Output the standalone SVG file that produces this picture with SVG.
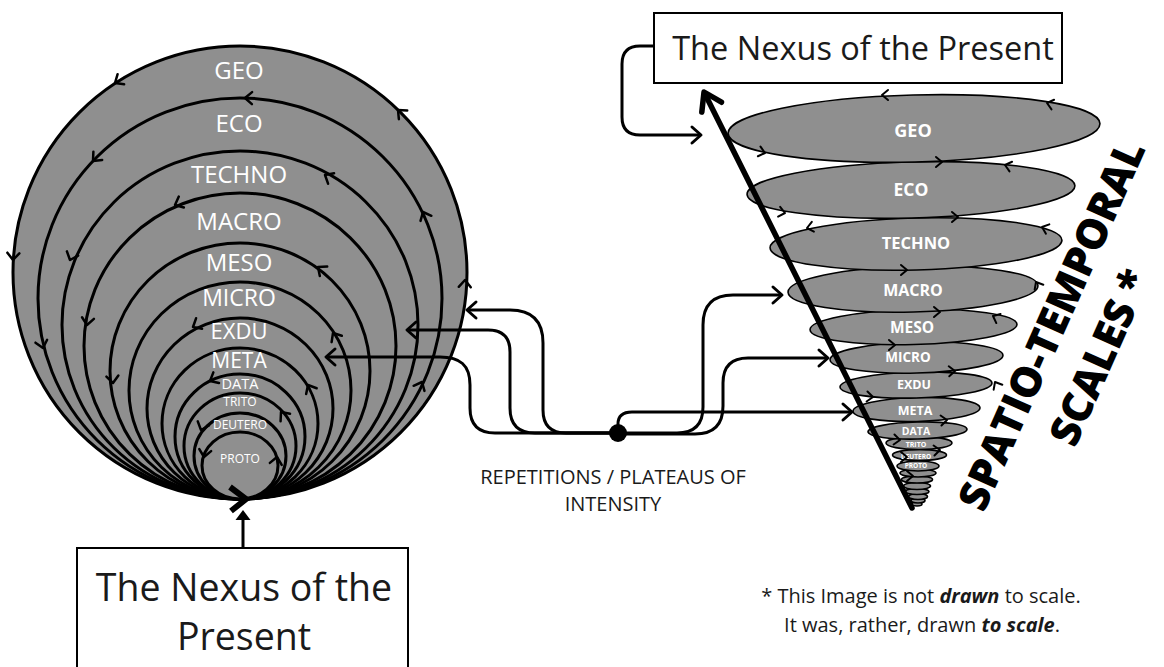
<svg xmlns="http://www.w3.org/2000/svg" xmlns:xlink="http://www.w3.org/1999/xlink" width="1164" height="667" viewBox="0 0 1164 667">
<style>
.ring{fill:#8f8f8f;stroke:#000;stroke-width:3}
.cone{fill:#8f8f8f;stroke:#000;stroke-width:1.6}
.lbl{font-family:"Open Sans","Liberation Sans",sans-serif;fill:#fff;text-anchor:middle}
.clbl{font-family:"Open Sans","Liberation Sans",sans-serif;fill:#fff;font-weight:700;text-anchor:middle}
.conn{fill:none;stroke:#000;stroke-width:3;stroke-linejoin:round}
.txt{font-family:"Open Sans","Liberation Sans",sans-serif;fill:#1a1a1a}
.box{fill:#fff;stroke:#000;stroke-width:2}
.big{font-family:"Open Sans","Liberation Sans",sans-serif;font-weight:800;font-size:42px;fill:#000;text-anchor:middle}
</style>
<defs>
<path id="ch" d="M-7,-6 L0,0 L-7,6" fill="none" stroke="#000" stroke-width="2.5" stroke-linecap="round" stroke-linejoin="round"/>
<path id="ah" d="M-9,-8 L0,0 L-9,8" fill="none" stroke="#000" stroke-width="3" stroke-linecap="round" stroke-linejoin="round"/>
<path id="cc" d="M-6,-5 L0,0 L-6,5" fill="none" stroke="#000" stroke-width="2" stroke-linecap="round" stroke-linejoin="round"/>
</defs>

<g id="left-circles">
<ellipse class="ring" cx="240" cy="272.5" rx="227" ry="226.5"/>
<ellipse class="ring" cx="240" cy="298.5" rx="202" ry="200.5"/>
<ellipse class="ring" cx="240" cy="325" rx="178" ry="174"/>
<ellipse class="ring" cx="240" cy="346" rx="156" ry="153"/>
<ellipse class="ring" cx="240" cy="371" rx="130" ry="128"/>
<ellipse class="ring" cx="240" cy="390.5" rx="111" ry="108.5"/>
<ellipse class="ring" cx="240" cy="408.5" rx="93" ry="90.5"/>
<ellipse class="ring" cx="240" cy="423.5" rx="78" ry="75.5"/>
<ellipse class="ring" cx="240" cy="436.5" rx="65" ry="62.5"/>
<ellipse class="ring" cx="240" cy="446" rx="56" ry="53"/>
<ellipse class="ring" cx="240" cy="456" rx="46" ry="43"/>
<ellipse class="ring" cx="240" cy="465.5" rx="38" ry="33.5"/>
<text class="lbl" x="239" y="78.5" font-size="24">GEO</text>
<text class="lbl" x="239" y="131.5" font-size="24">ECO</text>
<text class="lbl" x="239" y="182.5" font-size="24">TECHNO</text>
<text class="lbl" x="239" y="229.5" font-size="24">MACRO</text>
<text class="lbl" x="239" y="271" font-size="24">MESO</text>
<text class="lbl" x="239" y="306" font-size="23">MICRO</text>
<text class="lbl" x="239" y="339" font-size="22">EXDU</text>
<text class="lbl" x="239" y="367.5" font-size="21">META</text>
<text class="lbl" x="240" y="388.5" font-size="14.5">DATA</text>
<text class="lbl" x="240" y="405.5" font-size="12">TRITO</text>
<text class="lbl" x="240" y="428.5" font-size="12">DEUTERO</text>
<text class="lbl" x="240" y="462.5" font-size="12">PROTO</text>
<use href="#ch" transform="translate(115,83) rotate(147)"/>
<use href="#ch" transform="translate(398,110) rotate(-136)"/>
<use href="#ch" transform="translate(13,260) rotate(93)"/>
<use href="#ch" transform="translate(465,280) rotate(-88)"/>
<use href="#ch" transform="translate(245,98) rotate(-179)"/>
<use href="#ch" transform="translate(93,161) rotate(133)"/>
<use href="#ch" transform="translate(423,212) rotate(-115)"/>
<use href="#ch" transform="translate(43,348) rotate(76)"/>
<use href="#ch" transform="translate(422,382) rotate(-65)"/>
<use href="#ch" transform="translate(325,175) rotate(-150)"/>
<use href="#ch" transform="translate(70,260) rotate(111)"/>
<use href="#ch" transform="translate(175,205) rotate(155)"/>
<use href="#ch" transform="translate(87,325) rotate(98)"/>
<use href="#ch" transform="translate(318,267) rotate(-142)"/>
<use href="#ch" transform="translate(113,383) rotate(85)"/>
<use href="#ch" transform="translate(333,333) rotate(-122)"/>
<use href="#ch" transform="translate(193,327) rotate(150)"/>
<use href="#ch" transform="translate(308,385) rotate(-119)"/>
<use href="#ch" transform="translate(210,381) rotate(152)"/>
<use href="#ch" transform="translate(281,412) rotate(-128)"/>
<use href="#ch" transform="translate(201,430) rotate(110)"/>
<use href="#ch" transform="translate(204,457) rotate(100)"/>
<use href="#ch" transform="translate(277,457) rotate(-80)"/>
<path d="M230,487 L246,499 L231,511" fill="none" stroke="#000" stroke-width="6"/>
</g>

<g id="cone">
<ellipse class="cone" cx="917" cy="504" rx="5" ry="2"/>
<ellipse class="cone" cx="918" cy="500.5" rx="7" ry="2.5"/>
<ellipse class="cone" cx="918" cy="496.5" rx="9.5" ry="3"/>
<ellipse class="cone" cx="917" cy="491.5" rx="12" ry="3"/>
<ellipse class="cone" cx="917" cy="486" rx="13.5" ry="3.5"/>
<ellipse class="cone" cx="917" cy="479.5" rx="15.5" ry="3.5"/>
<ellipse class="cone" cx="918" cy="473" rx="18" ry="4"/>
<ellipse class="cone" cx="918" cy="466" rx="21" ry="5"/>
<ellipse class="cone" cx="919.5" cy="455" rx="27" ry="5.5"/>
<ellipse class="cone" cx="919" cy="443" rx="33" ry="6.5"/>
<ellipse class="cone" cx="917.5" cy="430.5" rx="49.5" ry="8.5" transform="rotate(-1.5 917.5 430.5)"/>
<ellipse class="cone" cx="916.5" cy="409.5" rx="63.5" ry="12" transform="rotate(-1.5 916.5 409.5)"/>
<ellipse class="cone" cx="916" cy="385" rx="76" ry="13" transform="rotate(-1.5 916 385)"/>
<ellipse class="cone" cx="916.5" cy="357.5" rx="86.5" ry="15.5" transform="rotate(-1.5 916.5 357.5)"/>
<ellipse class="cone" cx="913.5" cy="327" rx="103.5" ry="17.5" transform="rotate(-1.5 913.5 327)"/>
<ellipse class="cone" cx="913" cy="289" rx="125" ry="23" transform="rotate(-1.5 913 289)"/>
<ellipse class="cone" cx="916" cy="244" rx="146" ry="26" transform="rotate(-1.5 916 244)"/>
<ellipse class="cone" cx="911" cy="190" rx="164" ry="28" transform="rotate(-1.5 911 190)"/>
<ellipse class="cone" cx="914" cy="128.5" rx="186" ry="33.5" transform="rotate(-1.5 914 128.5)"/>
<text class="clbl" x="913" y="136.5" font-size="18">GEO</text>
<text class="clbl" x="911" y="196" font-size="17.5">ECO</text>
<text class="clbl" x="916" y="249" font-size="16.5">TECHNO</text>
<text class="clbl" x="913" y="295.5" font-size="16">MACRO</text>
<text class="clbl" x="912" y="332.5" font-size="15.5">MESO</text>
<text class="clbl" x="908" y="362" font-size="13.5">MICRO</text>
<text class="clbl" x="914" y="388.5" font-size="12.5">EXDU</text>
<text class="clbl" x="915" y="414.5" font-size="12.5">META</text>
<text class="clbl" x="916" y="435" font-size="10.5">DATA</text>
<text class="clbl" x="916" y="446.5" font-size="7">TRITO</text>
<text class="clbl" x="916" y="459.3" font-size="6.5">DEUTERO</text>
<text class="clbl" x="916" y="468.3" font-size="6.5">PROTO</text>
<use href="#cc" transform="translate(882,95) rotate(180)"/>
<use href="#cc" transform="translate(1047,103) rotate(195)"/>
<use href="#cc" transform="translate(765,153) rotate(15)"/>
<use href="#cc" transform="translate(942,162) rotate(0)"/>
<use href="#cc" transform="translate(1005,165) rotate(195)"/>
<use href="#cc" transform="translate(785,213) rotate(12)"/>
<use href="#cc" transform="translate(958,217) rotate(0)"/>
<use href="#cc" transform="translate(807,228) rotate(168)"/>
<use href="#cc" transform="translate(1042,227) rotate(200)"/>
<use href="#cc" transform="translate(907,270) rotate(0)"/>
<use href="#cc" transform="translate(940,312) rotate(0)"/>
<use href="#cc" transform="translate(1036,282) rotate(-120)"/>
<use href="#cc" transform="translate(993,316) rotate(205)"/>
<use href="#cc" transform="translate(895,345) rotate(0)"/>
<use href="#cc" transform="translate(955,371) rotate(-3)"/>
<use href="#cc" transform="translate(995,382) rotate(-120)"/>
<use href="#cc" transform="translate(873,397) rotate(5)"/>
<use href="#cc" transform="translate(947,420) rotate(-5)"/>
<use href="#cc" transform="translate(900,440) rotate(5)"/>
<use href="#cc" transform="translate(940,450) rotate(-5)"/>
<use href="#cc" transform="translate(907,457) rotate(0)"/>
<use href="#cc" transform="translate(913,476) rotate(0)"/>
</g>

<g id="connectors">
<path class="conn" d="M618,433 H566 Q543,433 543,410 V343 Q543,310 510,310 H469"/>
<use href="#ah" transform="translate(467,310) rotate(180)"/>
<path class="conn" d="M618,433 H535 Q510,433 510,408 V352 Q510,330 488,330 H409"/>
<use href="#ah" transform="translate(407,330) rotate(180)"/>
<path class="conn" d="M618,433 H495 Q470,433 470,408 V385 C470,365 460,357 440,357 H328"/>
<use href="#ah" transform="translate(326,357) rotate(180)"/>
<path class="conn" d="M618,433 V424 Q618,412 632,412 H851"/>
<use href="#ah" transform="translate(852,412)"/>
<path class="conn" d="M618,433 H677 Q703,433 703,407 V325 Q703,295 733,295 H781"/>
<use href="#ah" transform="translate(782,295)"/>
<path class="conn" d="M618,434 H695 Q723,434 723,406 V383 Q723,358 748,358 H827"/>
<use href="#ah" transform="translate(828,358)"/>
<circle cx="618" cy="433" r="9" fill="#000"/>
<path class="conn" stroke-width="2.5" d="M654,46 H640 Q622,46 622,64 V117 Q622,135 640,135 H699"/>
<use href="#ah" transform="translate(701,135)"/>
<line x1="243" y1="548" x2="243" y2="518" stroke="#000" stroke-width="3"/>
<polygon points="243,510 235.5,520 250.5,520" fill="#000"/>
<line x1="912" y1="508" x2="705" y2="94" stroke="#000" stroke-width="5.5" stroke-linecap="round"/>
<path d="M-17,-11 L0,0 L-17,11" fill="none" stroke="#000" stroke-width="5.5" stroke-linecap="round" stroke-linejoin="round" transform="translate(704,92) rotate(-116.7)"/>
</g>

<g id="nexus-top">
<rect class="box" x="654" y="13" width="408" height="70"/>
<text class="txt" x="863" y="59.5" font-size="32.5" text-anchor="middle" fill="#111">The Nexus of the Present</text>
</g>

<g id="nexus-bottom">
<rect class="box" x="77" y="548" width="331" height="130"/>
<text class="txt" x="244" y="601" font-size="37.5" text-anchor="middle" fill="#111">The Nexus of the</text>
<text class="txt" x="244" y="650" font-size="37.5" text-anchor="middle" fill="#111">Present</text>
</g>

<g id="repetitions-label">
<text class="txt" x="613" y="484" font-size="20" text-anchor="middle" fill="#222">REPETITIONS / PLATEAUS OF</text>
<text class="txt" x="613" y="511" font-size="20" text-anchor="middle" fill="#222">INTENSITY</text>
</g>

<g id="scales-title" transform="translate(1065,331) rotate(-66)">
<text class="big" x="0" y="0">SPATIO-TEMPORAL</text>
<text class="big" x="-10" y="57">SCALES *</text>
</g>

<g id="footnote">
<text class="txt" x="921" y="603" font-size="20" text-anchor="middle" fill="#111">* This Image is not <tspan font-weight="700" font-style="italic">drawn</tspan> to scale.</text>
<text class="txt" x="922" y="632" font-size="20" text-anchor="middle" fill="#111">It was, rather, drawn <tspan font-weight="700" font-style="italic">to scale</tspan>.</text>
</g>
</svg>
